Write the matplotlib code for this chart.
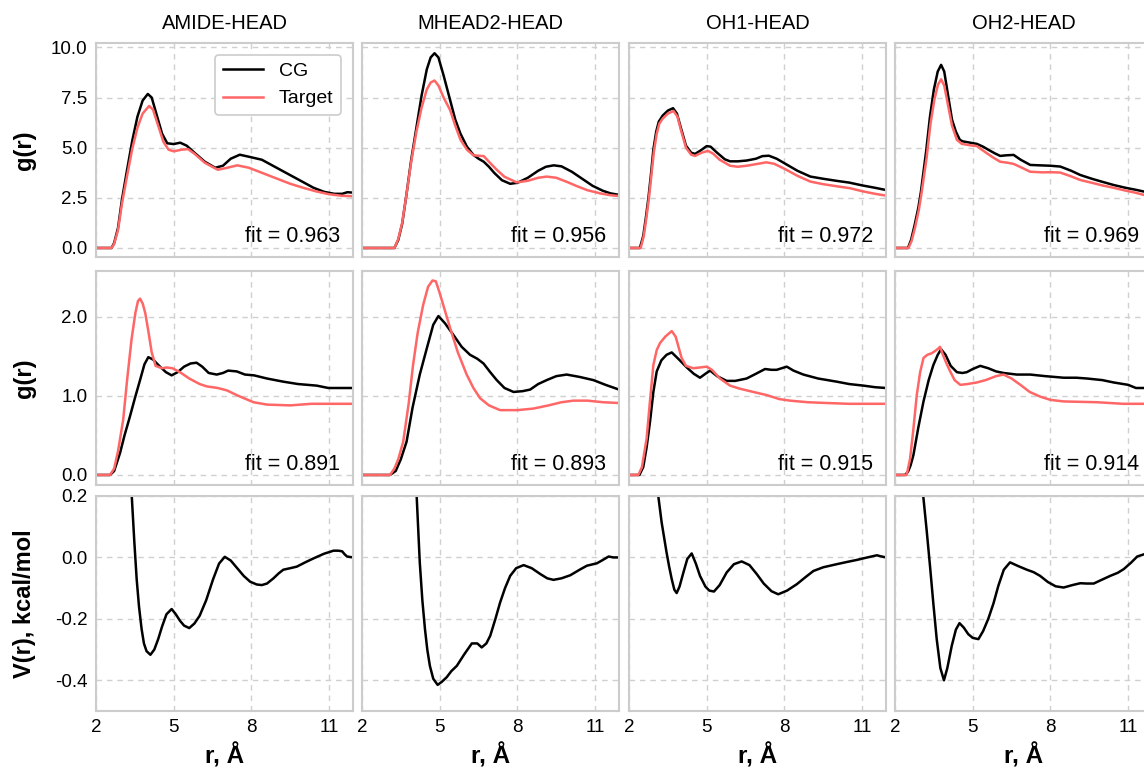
import matplotlib
matplotlib.use('Agg')
import matplotlib.pyplot as plt
from matplotlib.ticker import FormatStrFormatter

plt.rcParams['font.family'] = ['Liberation Sans', 'DejaVu Sans']
plt.rcParams['axes.unicode_minus'] = False

# Названия пар и значения fit
pairs = ['AMIDE-HEAD', 'MHEAD2-HEAD', 'OH1-HEAD', 'OH2-HEAD']
fit_top = [0.963, 0.956, 0.972, 0.969]
fit_mid = [0.891, 0.893, 0.915, 0.914]
x_ticks = [2, 5, 8, 11]

# ---- верхний ряд: g(r), точки (r, g) ----
amide_top_cg = [(2.0, 0), (2.6, 0), (2.7, 0.25), (2.85, 1.0), (3.0, 2.4), (3.2, 3.9), (3.4, 5.35),
                (3.6, 6.55), (3.8, 7.35), (4.0, 7.68), (4.15, 7.5), (4.35, 6.6), (4.55, 5.7),
                (4.75, 5.22), (5.0, 5.18), (5.25, 5.25), (5.5, 5.1), (5.8, 4.75), (6.2, 4.3),
                (6.6, 4.0), (6.9, 4.1), (7.2, 4.45), (7.55, 4.65), (7.9, 4.55), (8.4, 4.4),
                (8.9, 4.05), (9.4, 3.7), (9.9, 3.35), (10.4, 3.0), (10.8, 2.8), (11.2, 2.7),
                (11.5, 2.7), (11.7, 2.78), (11.92, 2.76)]
amide_top_tgt = [(2.0, 0), (2.6, 0), (2.7, 0.2), (2.85, 0.9), (3.0, 2.2), (3.2, 3.6), (3.4, 4.95),
                 (3.6, 6.0), (3.8, 6.7), (4.05, 7.08), (4.2, 6.9), (4.4, 6.1), (4.6, 5.3),
                 (4.8, 4.9), (5.0, 4.82), (5.3, 4.9), (5.55, 4.93), (5.8, 4.7), (6.2, 4.25),
                 (6.7, 3.9), (7.0, 3.98), (7.45, 4.12), (7.9, 4.0), (8.5, 3.7), (9.0, 3.45),
                 (9.5, 3.2), (10.0, 3.0), (10.5, 2.82), (11.0, 2.68), (11.5, 2.6), (11.92, 2.58)]

mhead2_top_cg = [(2.0, 0), (3.25, 0), (3.4, 0.4), (3.55, 1.2), (3.72, 2.7), (3.9, 4.4), (4.1, 6.0),
                 (4.3, 7.6), (4.5, 8.9), (4.65, 9.5), (4.8, 9.71), (4.95, 9.5), (5.15, 8.6),
                 (5.4, 7.38), (5.6, 6.4), (5.8, 5.7), (6.05, 5.05), (6.3, 4.64), (6.5, 4.45),
                 (6.7, 4.3), (6.9, 4.05), (7.1, 3.75), (7.4, 3.38), (7.72, 3.2), (8.0, 3.25),
                 (8.4, 3.5), (8.8, 3.85), (9.1, 4.05), (9.4, 4.12), (9.7, 4.07), (10.1, 3.8),
                 (10.5, 3.45), (10.9, 3.1), (11.3, 2.85), (11.6, 2.72), (11.92, 2.65)]
mhead2_top_tgt = [(2.0, 0), (3.25, 0), (3.4, 0.45), (3.55, 1.25), (3.72, 2.7), (3.9, 4.3), (4.1, 5.8),
                  (4.3, 7.0), (4.5, 7.9), (4.65, 8.25), (4.8, 8.35), (4.95, 8.1), (5.15, 7.5),
                  (5.4, 6.88), (5.6, 6.1), (5.8, 5.4), (6.05, 4.9), (6.3, 4.62), (6.5, 4.6),
                  (6.7, 4.58), (6.9, 4.3), (7.2, 3.9), (7.5, 3.55), (7.97, 3.27), (8.4, 3.35),
                  (8.8, 3.5), (9.13, 3.56), (9.5, 3.5), (9.9, 3.3), (10.3, 3.08), (10.7, 2.88),
                  (11.2, 2.72), (11.6, 2.63), (11.92, 2.59)]

oh1_top_cg = [(2.0, 0), (2.42, 0), (2.55, 0.6), (2.65, 1.5), (2.75, 2.5), (2.85, 3.7), (2.94, 4.9),
              (3.05, 5.8), (3.15, 6.3), (3.3, 6.6), (3.5, 6.85), (3.7, 6.97), (3.85, 6.7), (4.0, 6.0),
              (4.2, 5.1), (4.4, 4.75), (4.55, 4.69), (4.75, 4.85), (5.0, 5.08), (5.15, 5.05),
              (5.4, 4.75), (5.7, 4.42), (5.9, 4.32), (6.2, 4.32), (6.54, 4.36), (6.9, 4.45),
              (7.15, 4.58), (7.4, 4.6), (7.7, 4.45), (8.1, 4.15), (8.5, 3.85), (9.0, 3.56),
              (9.5, 3.45), (10.0, 3.35), (10.5, 3.26), (11.0, 3.12), (11.5, 3.0), (11.92, 2.89)]
oh1_top_tgt = [(2.0, 0), (2.45, 0), (2.57, 0.6), (2.67, 1.5), (2.77, 2.5), (2.87, 3.7), (2.96, 4.8),
               (3.07, 5.7), (3.17, 6.2), (3.3, 6.45), (3.5, 6.7), (3.72, 6.83), (3.87, 6.55),
               (4.0, 5.9), (4.2, 5.0), (4.4, 4.65), (4.55, 4.59), (4.8, 4.75), (5.05, 4.84),
               (5.25, 4.7), (5.5, 4.4), (5.9, 4.1), (6.2, 4.05), (6.54, 4.1), (6.9, 4.18),
               (7.3, 4.27), (7.6, 4.2), (8.0, 3.95), (8.5, 3.6), (9.0, 3.31), (9.5, 3.18),
               (10.0, 3.08), (10.53, 2.98), (11.0, 2.83), (11.5, 2.7), (11.92, 2.61)]

oh2_top_cg = [(2.0, 0), (2.5, 0), (2.62, 0.4), (2.75, 1.1), (2.9, 2.0), (3.0, 2.8), (3.2, 4.8),
              (3.35, 6.55), (3.5, 7.9), (3.65, 8.8), (3.78, 9.13), (3.9, 8.8), (4.05, 7.6),
              (4.2, 6.4), (4.35, 5.8), (4.5, 5.4), (4.6, 5.32), (4.9, 5.25), (5.16, 5.19),
              (5.4, 5.05), (5.6, 4.9), (5.85, 4.72), (6.06, 4.59), (6.3, 4.62), (6.58, 4.64),
              (6.85, 4.4), (7.22, 4.14), (7.6, 4.12), (8.0, 4.1), (8.38, 4.06), (8.8, 3.85),
              (9.15, 3.64), (9.6, 3.45), (10.0, 3.3), (10.44, 3.14), (10.9, 3.0), (11.3, 2.9),
              (11.62, 2.81), (11.92, 2.74)]
oh2_top_tgt = [(2.0, 0), (2.52, 0), (2.64, 0.35), (2.77, 1.0), (2.92, 1.9), (3.02, 2.7), (3.22, 4.5),
               (3.37, 6.2), (3.52, 7.4), (3.66, 8.15), (3.78, 8.41), (3.9, 8.1), (4.05, 7.1),
               (4.2, 6.1), (4.39, 5.39), (4.58, 5.19), (4.9, 5.12), (5.16, 5.08), (5.35, 4.9),
               (5.55, 4.72), (5.8, 4.5), (6.06, 4.3), (6.35, 4.25), (6.58, 4.19), (6.9, 4.0),
               (7.22, 3.8), (7.7, 3.77), (8.0, 3.78), (8.38, 3.76), (8.8, 3.57), (9.15, 3.39),
               (9.6, 3.25), (10.0, 3.12), (10.44, 3.0), (10.9, 2.86), (11.3, 2.75), (11.62, 2.64),
               (11.92, 2.56)]

# ---- средний ряд: g(r) ----
amide_mid_cg = [(2.0, 0), (2.54, 0), (2.7, 0.05), (2.93, 0.28), (3.1, 0.5), (3.31, 0.74), (3.5, 0.97),
                (3.7, 1.2), (3.87, 1.4), (4.02, 1.49), (4.2, 1.46), (4.47, 1.37), (4.7, 1.3),
                (4.92, 1.26), (5.15, 1.3), (5.4, 1.37), (5.65, 1.41), (5.88, 1.42), (6.1, 1.37),
                (6.35, 1.29), (6.66, 1.27), (6.9, 1.29), (7.1, 1.32), (7.43, 1.31), (7.75, 1.27),
                (8.1, 1.26), (8.6, 1.22), (9.23, 1.18), (9.8, 1.15), (10.52, 1.13), (10.97, 1.1),
                (11.4, 1.1), (11.92, 1.1)]
amide_mid_tgt = [(2.0, 0), (2.54, 0), (2.7, 0.08), (2.85, 0.3), (3.05, 0.7), (3.2, 1.2), (3.37, 1.71),
                 (3.52, 2.05), (3.62, 2.2), (3.7, 2.23), (3.8, 2.17), (3.9, 2.05), (4.02, 1.82),
                 (4.15, 1.55), (4.3, 1.38), (4.55, 1.35), (4.73, 1.36), (4.95, 1.35), (5.24, 1.3),
                 (5.6, 1.22), (6.0, 1.15), (6.28, 1.12), (6.7, 1.1), (7.05, 1.07), (7.5, 1.0),
                 (8.08, 0.92), (8.6, 0.89), (9.5, 0.88), (10.3, 0.9), (11.17, 0.9), (11.92, 0.9)]

mhead2_mid_cg = [(2.0, 0), (3.08, 0), (3.3, 0.05), (3.5, 0.2), (3.72, 0.42), (3.95, 0.85), (4.23, 1.27),
                 (4.5, 1.6), (4.75, 1.9), (4.95, 2.01), (5.2, 1.92), (5.53, 1.77), (5.85, 1.62),
                 (6.17, 1.52), (6.45, 1.47), (6.69, 1.41), (6.95, 1.3), (7.2, 1.2), (7.5, 1.1),
                 (7.85, 1.05), (8.2, 1.06), (8.49, 1.08), (8.8, 1.15), (9.13, 1.2), (9.5, 1.25),
                 (9.9, 1.27), (10.4, 1.24), (10.93, 1.2), (11.4, 1.14), (11.92, 1.08)]
mhead2_mid_tgt = [(2.0, 0), (3.08, 0), (3.25, 0.08), (3.4, 0.2), (3.59, 0.42), (3.8, 0.9), (3.97, 1.39),
                  (4.15, 1.8), (4.36, 2.15), (4.55, 2.38), (4.72, 2.46), (4.85, 2.45), (5.0, 2.3),
                  (5.2, 2.08), (5.4, 1.86), (5.7, 1.55), (6.04, 1.27), (6.3, 1.1), (6.56, 0.97),
                  (6.9, 0.88), (7.33, 0.82), (8.0, 0.82), (8.62, 0.84), (9.2, 0.88), (9.7, 0.92),
                  (10.16, 0.94), (10.7, 0.94), (11.3, 0.92), (11.92, 0.91)]

oh1_mid_cg = [(2.0, 0), (2.4, 0), (2.55, 0.1), (2.68, 0.35), (2.81, 0.67), (2.94, 1.05), (3.07, 1.31),
              (3.25, 1.45), (3.45, 1.52), (3.65, 1.55), (3.9, 1.47), (4.23, 1.36), (4.5, 1.28),
              (4.74, 1.23), (4.95, 1.28), (5.13, 1.32), (5.4, 1.25), (5.77, 1.19), (6.1, 1.19),
              (6.54, 1.22), (6.9, 1.28), (7.25, 1.34), (7.5, 1.33), (7.7, 1.33), (8.09, 1.37),
              (8.35, 1.32), (8.73, 1.27), (9.3, 1.22), (10.02, 1.18), (10.5, 1.15), (11.05, 1.13),
              (11.5, 1.11), (11.92, 1.1)]
oh1_mid_tgt = [(2.0, 0), (2.36, 0), (2.5, 0.1), (2.6, 0.3), (2.68, 0.46), (2.8, 0.9), (2.94, 1.39),
               (3.07, 1.58), (3.2, 1.67), (3.4, 1.75), (3.65, 1.82), (3.8, 1.75), (4.03, 1.48),
               (4.2, 1.38), (4.48, 1.35), (4.75, 1.36), (5.0, 1.37), (5.2, 1.33), (5.51, 1.22),
               (5.9, 1.13), (6.29, 1.09), (6.8, 1.05), (7.32, 1.01), (7.8, 0.96), (8.22, 0.94),
               (8.9, 0.92), (9.64, 0.91), (10.5, 0.9), (11.92, 0.9)]

oh2_mid_cg = [(2.0, 0), (2.39, 0), (2.5, 0.04), (2.6, 0.12), (2.71, 0.25), (2.9, 0.6), (3.1, 0.93),
              (3.3, 1.2), (3.48, 1.39), (3.65, 1.52), (3.78, 1.59), (3.95, 1.52), (4.15, 1.38),
              (4.39, 1.3), (4.6, 1.29), (4.77, 1.3), (5.0, 1.34), (5.29, 1.38), (5.6, 1.35),
              (5.9, 1.31), (6.19, 1.29), (6.7, 1.27), (7.22, 1.27), (7.8, 1.25), (8.51, 1.23),
              (9.0, 1.23), (9.41, 1.22), (10.0, 1.2), (10.44, 1.17), (11.0, 1.14), (11.3, 1.1),
              (11.64, 1.1), (11.92, 1.1)]
oh2_mid_tgt = [(2.0, 0), (2.45, 0), (2.58, 0.2), (2.7, 0.55), (2.84, 1.01), (2.97, 1.3), (3.1, 1.48),
               (3.25, 1.52), (3.42, 1.54), (3.6, 1.58), (3.74, 1.62), (3.85, 1.52), (4.0, 1.4),
               (4.13, 1.31), (4.3, 1.2), (4.52, 1.14), (4.8, 1.15), (5.16, 1.17), (5.5, 1.2),
               (5.9, 1.25), (6.19, 1.27), (6.5, 1.22), (6.84, 1.14), (7.2, 1.05), (7.61, 0.99),
               (8.0, 0.95), (8.51, 0.93), (9.8, 0.92), (10.8, 0.9), (11.92, 0.9)]

# ---- нижний ряд: V(r), kcal/mol ----
amide_pot = [(3.2, 0.55), (3.3, 0.33), (3.38, 0.2), (3.48, 0.05), (3.57, -0.071), (3.66, -0.16),
             (3.76, -0.233), (3.85, -0.28), (3.95, -0.305), (4.1, -0.317), (4.25, -0.3),
             (4.4, -0.266), (4.55, -0.225), (4.72, -0.185), (4.92, -0.168), (5.08, -0.185),
             (5.24, -0.206), (5.4, -0.222), (5.6, -0.23), (5.8, -0.215), (6.0, -0.19),
             (6.25, -0.14), (6.52, -0.071), (6.75, -0.02), (6.97, 0.002), (7.2, -0.01),
             (7.43, -0.033), (7.7, -0.06), (7.95, -0.079), (8.2, -0.088), (8.4, -0.09),
             (8.6, -0.085), (8.85, -0.068), (9.05, -0.052), (9.23, -0.04), (9.5, -0.035),
             (9.75, -0.03), (10.1, -0.015), (10.4, -0.003), (10.8, 0.012), (11.17, 0.022),
             (11.35, 0.022), (11.5, 0.02), (11.6, 0.01), (11.69, 0.003), (11.92, 0.0)]
mhead2_pot = [(4.0, 0.5), (4.11, 0.2), (4.23, -0.016), (4.33, -0.14), (4.43, -0.233), (4.52, -0.3),
              (4.62, -0.353), (4.75, -0.395), (4.92, -0.415), (5.08, -0.405), (5.27, -0.39),
              (5.45, -0.37), (5.66, -0.353), (5.95, -0.315), (6.24, -0.28), (6.45, -0.28),
              (6.62, -0.293), (6.8, -0.28), (6.95, -0.255), (7.15, -0.2), (7.33, -0.147),
              (7.52, -0.1), (7.72, -0.06), (7.95, -0.035), (8.24, -0.025), (8.55, -0.035),
              (8.88, -0.054), (9.15, -0.068), (9.39, -0.073), (9.7, -0.068), (10.04, -0.058),
              (10.4, -0.04), (10.68, -0.027), (11.07, -0.019), (11.3, -0.008), (11.52, 0.003),
              (11.7, 0.0), (11.92, 0.0)]
oh1_pot = [(3.05, 0.35), (3.13, 0.2), (3.26, 0.114), (3.45, 0.016), (3.55, -0.03), (3.65, -0.071),
           (3.75, -0.105), (3.84, -0.116), (3.95, -0.095), (4.1, -0.049), (4.25, -0.005),
           (4.42, 0.013), (4.58, -0.02), (4.74, -0.06), (4.95, -0.095), (5.1, -0.108),
           (5.28, -0.111), (5.5, -0.09), (5.77, -0.049), (6.05, -0.022), (6.35, -0.013),
           (6.65, -0.025), (6.93, -0.054), (7.2, -0.085), (7.5, -0.11), (7.76, -0.12),
           (8.1, -0.108), (8.48, -0.087), (8.8, -0.065), (9.12, -0.044), (9.5, -0.032),
           (10.02, -0.022), (10.4, -0.015), (10.8, -0.008), (11.2, 0.0), (11.57, 0.007),
           (11.7, 0.004), (11.92, 0.0)]
oh2_pot = [(3.0, 0.45), (3.09, 0.2), (3.22, 0.09), (3.35, -0.027), (3.48, -0.15), (3.61, -0.266),
           (3.75, -0.36), (3.89, -0.4), (4.02, -0.36), (4.19, -0.288), (4.35, -0.235),
           (4.49, -0.214), (4.65, -0.228), (4.83, -0.25), (5.0, -0.262), (5.22, -0.266),
           (5.4, -0.24), (5.6, -0.2), (5.8, -0.15), (5.99, -0.092), (6.2, -0.04), (6.44, -0.016),
           (6.75, -0.028), (7.09, -0.04), (7.35, -0.048), (7.6, -0.06), (7.9, -0.08),
           (8.2, -0.094), (8.51, -0.098), (8.85, -0.09), (9.15, -0.084), (9.4, -0.085),
           (9.67, -0.085), (10.0, -0.072), (10.31, -0.06), (10.6, -0.05), (10.83, -0.038),
           (11.1, -0.018), (11.35, 0.003), (11.64, 0.011), (11.92, 0.01)]

top_cg = [amide_top_cg, mhead2_top_cg, oh1_top_cg, oh2_top_cg]
top_tgt = [amide_top_tgt, mhead2_top_tgt, oh1_top_tgt, oh2_top_tgt]
mid_cg = [amide_mid_cg, mhead2_mid_cg, oh1_mid_cg, oh2_mid_cg]
mid_tgt = [amide_mid_tgt, mhead2_mid_tgt, oh1_mid_tgt, oh2_mid_tgt]
pots = [amide_pot, mhead2_pot, oh1_pot, oh2_pot]

CG_COLOR = 'black'
TGT_COLOR = '#ff6666'
GRID_COLOR = '#d0d0d0'
SPINE_COLOR = '#cccccc'
LW = 1.8

W, H = 1144, 776
fig = plt.figure(figsize=(W / 100, H / 100), dpi=100)

col_left = [96, 362, 629, 895]
col_w = 257
row_top = [43, 271, 496]
row_h = [214, 214, 215]
row_ylim = [(-0.45, 10.22), (-0.127, 2.58), (-0.5, 0.2)]
row_yticks = [[0, 2.5, 5, 7.5, 10], [0, 1, 2], [-0.4, -0.2, 0.0, 0.2]]
row_ylabel = ['g(r)', 'g(r)', 'V(r), kcal/mol']


def xy(points):
    r, v = zip(*points)
    return list(r), list(v)


for i in range(3):
    for j in range(4):
        ax = fig.add_axes([col_left[j] / W, 1 - (row_top[i] + row_h[i]) / H,
                           col_w / W, row_h[i] / H])
        if i < 2:
            cg = top_cg[j] if i == 0 else mid_cg[j]
            tgt = top_tgt[j] if i == 0 else mid_tgt[j]
            r, g = xy(cg)
            ax.plot(r, g, color=CG_COLOR, lw=LW, label='CG')
            r, g = xy(tgt)
            ax.plot(r, g, color=TGT_COLOR, lw=LW, label='Target')
            fit = fit_top[j] if i == 0 else fit_mid[j]
            ax.text(0.95, 0.045, f'fit = {fit:.3f}', transform=ax.transAxes,
                    ha='right', va='bottom', fontsize=15.5)
        else:
            r, v = xy(pots[j])
            ax.plot(r, v, color=CG_COLOR, lw=LW)

        ax.set_xlim(2, 11.92)
        ax.set_ylim(*row_ylim[i])
        ax.set_xticks(x_ticks)
        ax.set_yticks(row_yticks[i])
        ax.yaxis.set_major_formatter(FormatStrFormatter('%.1f'))
        ax.grid(True, color=GRID_COLOR, lw=1.0, linestyle=(0, (4, 3.5)))
        ax.set_axisbelow(True)
        for s in ax.spines.values():
            s.set_color(SPINE_COLOR)
            s.set_linewidth(1.5)
        ax.tick_params(length=0, labelsize=13.5, pad=6)

        if j > 0:
            ax.tick_params(labelleft=False)
        else:
            ax.set_ylabel(row_ylabel[i], fontsize=17, fontweight='bold')
            ax.yaxis.set_label_coords(-0.235, 0.5)
        if i < 2:
            ax.tick_params(labelbottom=False)
        else:
            ax.set_xlabel('r, Å', fontsize=17.5, fontweight='bold', labelpad=5)
        if i == 0:
            ax.set_title(pairs[j], fontsize=14.5, pad=10)
        if i == 0 and j == 0:
            leg = ax.legend(loc='upper right', fontsize=14, frameon=True, fancybox=True,
                            framealpha=1, edgecolor=SPINE_COLOR, borderaxespad=0.6,
                            handlelength=2.1)
            leg.get_frame().set_linewidth(1.2)

fig.savefig('out.png', dpi=100)
